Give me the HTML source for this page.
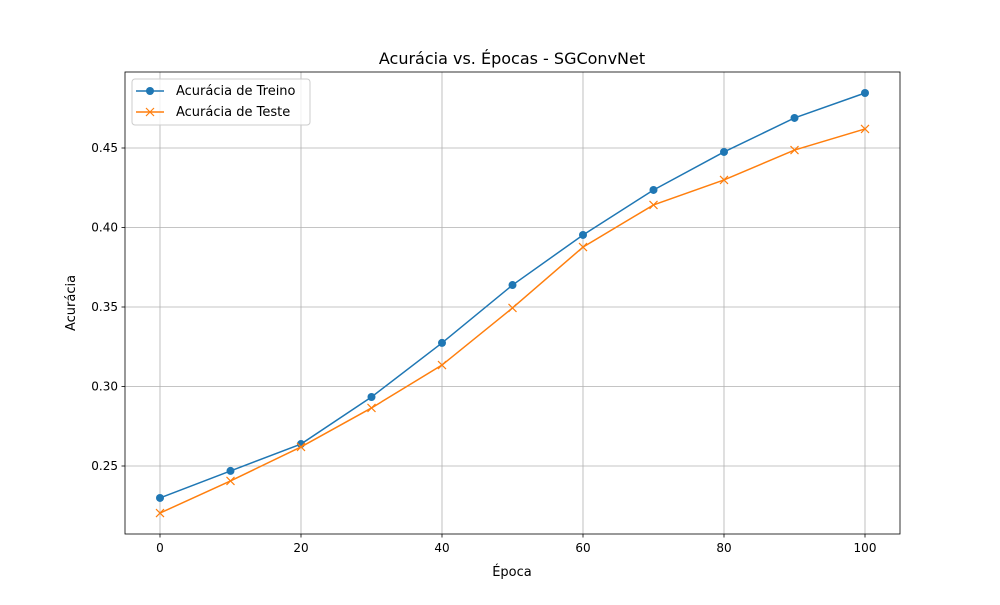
<!DOCTYPE html>
<html><head><meta charset="utf-8"><style>
body{margin:0;background:#fff;font-family:"Liberation Sans","DejaVu Sans",sans-serif}
svg text{font-family:"DejaVu Sans","Liberation Sans",sans-serif}
</style></head><body>
<svg id="chart" width="1000" height="600" xmlns="http://www.w3.org/2000/svg"></svg>
<script>
const epochs=[0,10,20,30,40,50,60,70,80,90,100];
const trainAcc=[0.2299,0.2469,0.2638,0.2934,0.3274,0.3638,0.3953,0.4236,0.4475,0.4689,0.4846];
const testAcc=[0.2204,0.2406,0.2620,0.2865,0.3135,0.3494,0.3877,0.4142,0.4299,0.4487,0.4620];
const xTicks=[0,20,40,60,80,100];
const yTicks=[0.25,0.30,0.35,0.40,0.45];
const L=125,R=900,T=72,B=534;
const xs=v=>160+(v-0)*(865-160)/100;
const ys=v=>466-(v-0.25)*1590;
const svg=document.getElementById('chart');
const NS='http://www.w3.org/2000/svg';
function mk(tag,attrs,parent){const e=document.createElementNS(NS,tag);for(const k in attrs)e.setAttribute(k,attrs[k]);(parent||svg).appendChild(e);return e;}
const grid=mk('g',{});


xTicks.forEach(t=>{const x=xs(t);mk('line',{x1:x,x2:x,y1:T,y2:B,stroke:'#b0b0b0','stroke-width':0.8},grid);
mk('line',{x1:x,x2:x,y1:B,y2:B+3.5,stroke:'#000','stroke-width':0.8});
const tx=mk('text',{x:x,y:B+18,'font-size':12,'text-anchor':'middle'});tx.textContent=t;

});
yTicks.forEach(t=>{const y=ys(t);mk('line',{x1:L,x2:R,y1:y,y2:y,stroke:'#b0b0b0','stroke-width':0.8},grid);
mk('line',{x1:L-3.5,x2:L,y1:y,y2:y,stroke:'#000','stroke-width':0.8});
const tx=mk('text',{x:L-7,y:y+4,'font-size':12,'text-anchor':'end'});tx.textContent=t.toFixed(2);

});
function series(vals,color,marker,name){
const g=mk('g',{});


mk('polyline',{points:epochs.map((e,i)=>xs(e)+','+ys(vals[i])).join(' '),fill:'none',stroke:color,'stroke-width':1.5},g);
epochs.forEach((e,i)=>{const x=xs(e),y=ys(vals[i]);
if(marker==='o')mk('circle',{cx:x,cy:y,r:4,fill:color},g);
else mk('path',{d:`M${x-4},${y-4}L${x+4},${y+4}M${x-4},${y+4}L${x+4},${y-4}`,stroke:color,'stroke-width':1.2},g);});
}
series(trainAcc,'#1f77b4','o','train-series');
series(testAcc,'#ff7f0e','x','test-series');
const ax=mk('rect',{x:L,y:T,width:R-L,height:B-T,fill:'none',stroke:'#000','stroke-width':0.8});


let t=mk('text',{x:512,y:64,'font-size':16,'text-anchor':'middle'});t.textContent='Acurácia vs. Épocas - SGConvNet';


t=mk('text',{x:512,y:576,'font-size':13,'text-anchor':'middle'});t.textContent='Época';


t=mk('text',{x:75,y:303,'font-size':13,'text-anchor':'middle',transform:'rotate(-90 75 303)'});t.textContent='Acurácia';


const lg=mk('g',{});


mk('rect',{x:132,y:79,width:178,height:46,rx:3,fill:'#fff','fill-opacity':0.8,stroke:'#ccc'},lg);
mk('line',{x1:136,x2:164,y1:91,y2:91,stroke:'#1f77b4','stroke-width':1.5},lg);
mk('circle',{cx:150,cy:91,r:4,fill:'#1f77b4'},lg);
t=mk('text',{x:176,y:95,'font-size':13},lg);t.textContent='Acurácia de Treino';
mk('line',{x1:136,x2:164,y1:112,y2:112,stroke:'#ff7f0e','stroke-width':1.5},lg);
mk('path',{d:'M146,108L154,116M146,116L154,108',stroke:'#ff7f0e','stroke-width':1.2},lg);
t=mk('text',{x:176,y:116,'font-size':13},lg);t.textContent='Acurácia de Teste';
</script>
</body></html>
